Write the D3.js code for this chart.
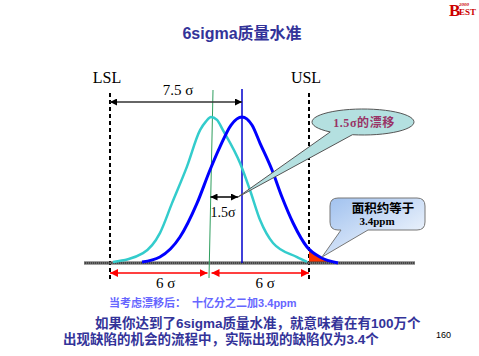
<!DOCTYPE html>
<html><head><meta charset="utf-8">
<script src="https://cdn.jsdelivr.net/npm/d3@7"></script>
<style>
html,body{margin:0;padding:0;background:#fff;}
svg{display:block;}
.sans{font-family:"Liberation Sans","Noto Sans CJK SC",sans-serif;}
.serif{font-family:"Liberation Serif","Noto Sans CJK SC",serif;}
</style></head>
<body>
<svg id="c" width="479" height="356"></svg>
<script>
// ---- data (x in σ units, centred process mean = 0; y = relative density) ----
const specValues = [-6, 6];
const specLabels = ["LSL", "USL"];
const centeredX = [-5.82, -4.01, -2.99, -2.26, -1.36, -0.57, -0.21, 0.09, 0.45, 0.81, 1.84, 2.44, 3.05, 3.83, 5.28, 5.88];
const centeredY = [0.007, 0.068, 0.205, 0.41, 0.66, 0.91, 0.97, 1.0, 0.98, 0.91, 0.685, 0.5, 0.294, 0.137, 0.04, 0.007];
const shiftedX = [-4.07, -2.99, -1.78, -0.75, 0.03, 0.63, 1.30, 1.96, 2.56, 3.05, 3.77, 4.37, 5.04, 5.88, 6.66, 7.75];
const shiftedY = [0.007, 0.041, 0.178, 0.41, 0.637, 0.795, 0.945, 1.0, 0.945, 0.82, 0.637, 0.452, 0.274, 0.11, 0.041, 0.0];
const centeredMean = 0;
const shiftedMean = 1.96;
const spanLabels = ["7.5 σ", "1.5σ", "6 σ", "6 σ"];
const titleText = "6sigma质量水准";
const calloutShift = "1.5σ的漂移";
const calloutArea = ["面积约等于", "3.4ppm"];
const noteText = "当考虑漂移后：  十亿分之二加3.4ppm";
const bodyLines = ["如果你达到了6sigma质量水准，就意味着在有100万个", "出现缺陷的机会的流程中，实际出现的缺陷仅为3.4个"];
const pageNumber = "160";

const svg = d3.select("#c");
const x = d3.scaleLinear().domain([-6, 6]).range([110, 309]);
const y = d3.scaleLinear().domain([0, 1]).range([263, 117]);
const baseY = y(0);

const defs = svg.append("defs");
function marker(id, color, w, h) {
  defs.append("marker").attr("id", id).attr("viewBox", "0 0 10 10")
    .attr("refX", 10).attr("refY", 5).attr("markerWidth", w).attr("markerHeight", h)
    .attr("markerUnits", "userSpaceOnUse").attr("orient", "auto-start-reverse")
    .append("path").attr("d", "M0,0 L10,5 L0,10 Z").attr("fill", color);
}
marker("ab", "#000", 9, 7);
marker("ar", "#ff0000", 8, 8);
const grad = defs.append("linearGradient").attr("id", "g1")
  .attr("x1", 0).attr("y1", 0).attr("x2", 1).attr("y2", 1);
grad.append("stop").attr("offset", "0").attr("stop-color", "#9dbfee");
grad.append("stop").attr("offset", "1").attr("stop-color", "#ffffff");
defs.append("clipPath").attr("id", "tail").append("rect")
  .attr("x", x(6)).attr("y", 0).attr("width", 200).attr("height", baseY);

// title
svg.append("text").attr("class", "sans").attr("x", 242).attr("y", 39)
  .attr("text-anchor", "middle").attr("font-size", 16).attr("font-weight", "bold")
  .attr("fill", "#333399").text(titleText);

// logo
const logo = svg.append("g").attr("class", "serif").attr("fill", "#cc0000").attr("font-weight", "bold");
logo.append("text").attr("x", 449).attr("y", 16).attr("font-size", 17).text("B");
logo.append("text").attr("x", 459).attr("y", 15).attr("font-size", 9).text("EST");
logo.append("text").attr("x", 459).attr("y", 6).attr("font-size", 5).attr("font-style", "italic").text("2000");

// spec limit dashed lines + labels
specValues.forEach((v, i) => {
  svg.append("line").attr("x1", x(v)).attr("x2", x(v)).attr("y1", 93).attr("y2", 280)
    .attr("stroke", "#000").attr("stroke-width", 2).attr("stroke-dasharray", "4,3");
  svg.append("text").attr("class", "serif").attr("x", x(v) - 3).attr("y", 83)
    .attr("text-anchor", "middle").attr("font-size", 16).attr("fill", "#000").text(specLabels[i]);
});

// red tail area beyond USL
const areaGen = d3.area().x(d => x(d[0])).y0(baseY).y1(d => y(d[1])).curve(d3.curveMonotoneX);
svg.append("path").datum(shiftedX.map((v, i) => [v, shiftedY[i]]))
  .attr("d", areaGen).attr("fill", "#ff3300").attr("clip-path", "url(#tail)");

// baseline
svg.append("line").attr("x1", 84).attr("x2", 415).attr("y1", baseY).attr("y2", baseY)
  .attr("stroke", "#444").attr("stroke-width", 3);
svg.append("line").attr("x1", 84).attr("x2", 415).attr("y1", baseY).attr("y2", baseY)
  .attr("stroke", "#999").attr("stroke-width", 1).attr("stroke-dasharray", "1,1");

// mean lines
svg.append("line").attr("x1", x(centeredMean) + 3.5).attr("x2", x(centeredMean) - 0.5)
  .attr("y1", 90).attr("y2", 278).attr("stroke", "#2e9e5e").attr("stroke-width", 1);
svg.append("line").attr("x1", x(shiftedMean)).attr("x2", x(shiftedMean))
  .attr("y1", 89).attr("y2", baseY).attr("stroke", "#0000cc").attr("stroke-width", 1.5);

// curves
const lineGen = d3.line().x(d => x(d[0])).y(d => y(d[1])).curve(d3.curveMonotoneX);
svg.append("path").datum(centeredX.map((v, i) => [v, centeredY[i]]))
  .attr("d", lineGen).attr("fill", "none").attr("stroke", "#33cccc").attr("stroke-width", 2.5);
svg.append("path").datum(shiftedX.map((v, i) => [v, shiftedY[i]]))
  .attr("d", lineGen).attr("fill", "none").attr("stroke", "#0000ff").attr("stroke-width", 3);

// 7.5σ arrow
svg.append("line").attr("x1", x(-6)).attr("x2", x(shiftedMean)).attr("y1", 102).attr("y2", 102)
  .attr("stroke", "#333").attr("stroke-width", 1.5)
  .attr("marker-start", "url(#ab)").attr("marker-end", "url(#ab)");
svg.append("text").attr("class", "serif").attr("x", 178).attr("y", 95)
  .attr("text-anchor", "middle").attr("font-size", 15).text(spanLabels[0]);

// shift callout (ellipse with tail)
(function () {
  const cx = 363, cy = 122, rx = 51, ry = 13;
  const tip = [x(shiftedMean) - 4, 197];
  const a1 = 130 * Math.PI / 180, a2 = 102 * Math.PI / 180;
  const A = [cx + rx * Math.cos(a1), cy + ry * Math.sin(a1)];
  const B = [cx + rx * Math.cos(a2), cy + ry * Math.sin(a2)];
  const d = `M${B[0]},${B[1]} A${rx},${ry} 0 1 0 ${A[0]},${A[1]} L${tip[0]},${tip[1]} Z`;
  svg.append("path").attr("d", d).attr("fill", "#b4e0e0").attr("stroke", "#555").attr("stroke-width", 1);
  svg.append("text").attr("class", "serif").attr("x", cx + 1).attr("y", cy + 4.5)
    .attr("text-anchor", "middle").attr("font-size", 12).attr("font-weight", "bold")
    .attr("letter-spacing", 0.6).attr("fill", "#993366").text(calloutShift);
})();

// 1.5σ arrow
svg.append("line").attr("x1", x(centeredMean) + 1).attr("x2", x(shiftedMean) - 4).attr("y1", 197).attr("y2", 197)
  .attr("stroke", "#000").attr("stroke-width", 1.5)
  .attr("marker-start", "url(#ab)").attr("marker-end", "url(#ab)");
svg.append("text").attr("class", "serif").attr("x", 223).attr("y", 217)
  .attr("text-anchor", "middle").attr("font-size", 14).text(spanLabels[1]);

// area callout (rounded rect with tail)
(function () {
  const l = 330, r = 425, t = 198, b = 230, k = 8;
  const tip = [322, 257];
  const d = `M${l + k},${t} H${r - k} Q${r},${t} ${r},${t + k} V${b - k} Q${r},${b} ${r - k},${b} H368 L${tip[0]},${tip[1]} L341,${b} H${l + k} Q${l},${b} ${l},${b - k} V${t + k} Q${l},${t} ${l + k},${t} Z`;
  svg.append("path").attr("d", d).attr("fill", "url(#g1)").attr("stroke", "#777").attr("stroke-width", 1);
  svg.append("text").attr("class", "serif").attr("x", 383).attr("y", 213)
    .attr("text-anchor", "middle").attr("font-size", 12.5).attr("font-weight", "bold").text(calloutArea[0]);
  svg.append("text").attr("class", "serif").attr("x", 377).attr("y", 225)
    .attr("text-anchor", "middle").attr("font-size", 11).attr("font-weight", "bold").text(calloutArea[1]);
})();

// 6σ red arrows
[[-6, centeredMean], [centeredMean, 6]].forEach((p, i) => {
  svg.append("line").attr("x1", x(p[0]) + (i ? 2 : 0)).attr("x2", x(p[1]) - (i ? 0 : 2))
    .attr("y1", 273).attr("y2", 273).attr("stroke", "#ff0000").attr("stroke-width", 1.5)
    .attr("marker-start", "url(#ar)").attr("marker-end", "url(#ar)");
  svg.append("text").attr("class", "serif").attr("x", (x(p[0]) + x(p[1])) / 2 + 6).attr("y", 288)
    .attr("text-anchor", "middle").attr("font-size", 15).text(spanLabels[2 + i]);
});

// note
svg.append("text").attr("class", "sans").attr("x", 109).attr("y", 307)
  .attr("font-size", 11).attr("font-weight", "bold").attr("fill", "#6666ff")
  .attr("xml:space", "preserve").style("white-space", "pre").text(noteText);

// body text
svg.append("text").attr("class", "sans").attr("x", 95).attr("y", 328)
  .attr("font-size", 13.5).attr("font-weight", "bold").attr("fill", "#333399").text(bodyLines[0]);
svg.append("text").attr("class", "sans").attr("x", 63).attr("y", 344)
  .attr("font-size", 13.5).attr("font-weight", "bold").attr("fill", "#333399").text(bodyLines[1]);
svg.append("text").attr("class", "sans").attr("x", 436).attr("y", 338)
  .attr("font-size", 9).attr("fill", "#000").text(pageNumber);
</script>
</body></html>
